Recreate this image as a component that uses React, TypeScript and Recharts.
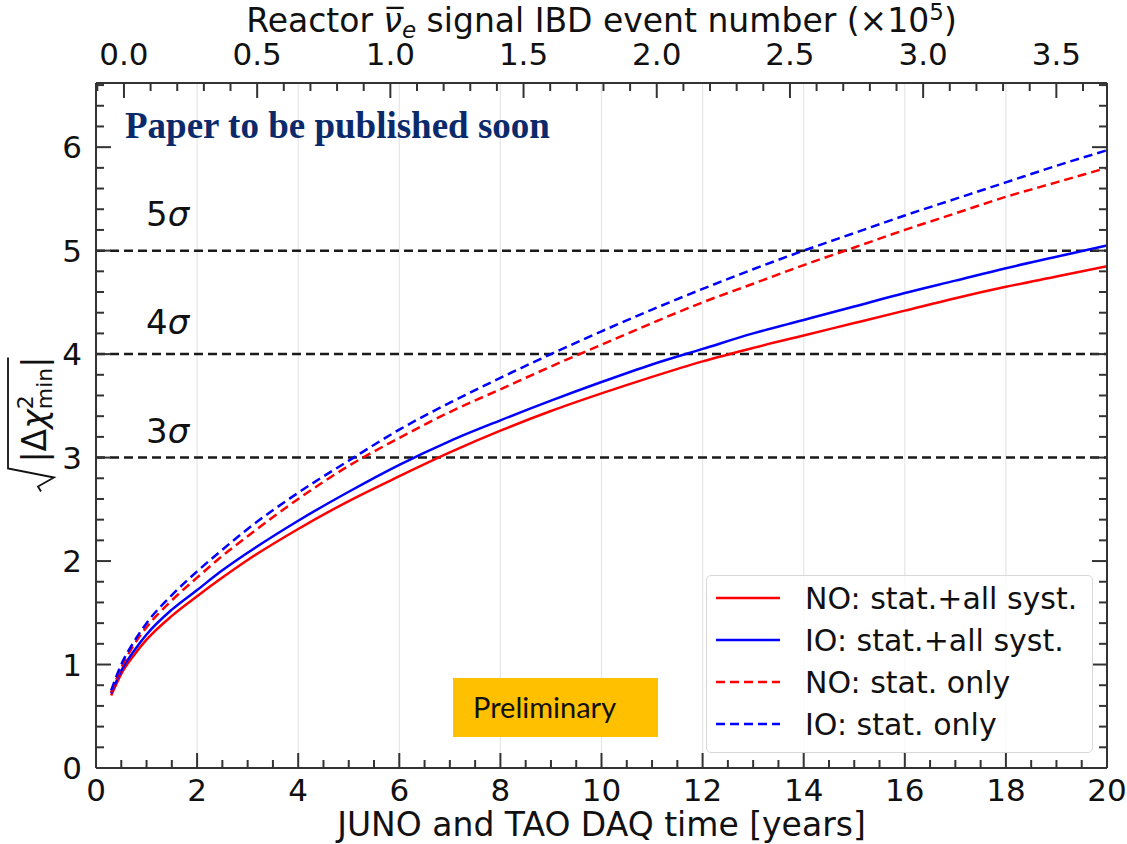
import React from 'react';
import { LineChart, Line, XAxis, YAxis, ReferenceLine, Legend } from 'recharts';

// DAQ time [years] and sqrt(|dchi2_min|) for each hypothesis
const years = [0.3, 0.5, 0.75, 1, 1.5, 2, 2.5, 3, 4, 5, 6, 7, 8, 9, 10, 11, 12, 13, 14, 15, 16, 17, 18, 19, 20];
const noSyst = [0.7, 0.91, 1.09, 1.24, 1.47, 1.66, 1.84, 2.01, 2.31, 2.58, 2.82, 3.05, 3.26, 3.45, 3.62, 3.78, 3.93, 4.06, 4.18, 4.3, 4.42, 4.54, 4.65, 4.75, 4.85];
const ioSyst = [0.72, 0.94, 1.13, 1.29, 1.53, 1.72, 1.91, 2.08, 2.39, 2.67, 2.93, 3.16, 3.36, 3.55, 3.73, 3.9, 4.05, 4.2, 4.33, 4.46, 4.59, 4.71, 4.83, 4.94, 5.05];
const noStat = [0.73, 0.97, 1.19, 1.36, 1.62, 1.84, 2.05, 2.24, 2.6, 2.92, 3.19, 3.44, 3.66, 3.88, 4.09, 4.3, 4.5, 4.68, 4.86, 5.03, 5.2, 5.36, 5.52, 5.66, 5.8];
const ioStat = [0.75, 1.0, 1.22, 1.4, 1.67, 1.9, 2.11, 2.31, 2.66, 2.97, 3.27, 3.53, 3.77, 4.0, 4.22, 4.43, 4.63, 4.82, 5.0, 5.17, 5.34, 5.5, 5.66, 5.82, 5.97];

// ticks
const xTicks = Array.from({ length: 41 }, (_, i) => i * 0.5);
const yTicks = Array.from({ length: 34 }, (_, i) => (i * 2) / 10);
// top axis: IBD events (x1e5); 0 events sits at 0.553 yr, 1e5 events every 5.27 yr
const topEvents = Array.from({ length: 38 }, (_, i) => (i - 1) / 10);
const EV_OFFSET = 0.553;
const YEARS_PER_EV = 5.27;
const gridYears = [2, 4, 6, 8, 10, 12, 14, 16, 18];
const sigmaLevels = [
  { level: 3, lift: 15 },
  { level: 4, lift: 20 },
  { level: 5, lift: 25 },
];

const series = [
  { key: 'noSyst', name: 'NO: stat.+all syst.', color: '#ff0000', dash: undefined },
  { key: 'ioSyst', name: 'IO: stat.+all syst.', color: '#0000ff', dash: undefined },
  { key: 'noStat', name: 'NO: stat. only', color: '#ff0000', dash: '9 5' },
  { key: 'ioStat', name: 'IO: stat. only', color: '#0000ff', dash: '9 5' },
];

const data = years.map((t, i) => ({
  t,
  noSyst: noSyst[i],
  ioSyst: ioSyst[i],
  noStat: noStat[i],
  ioStat: ioStat[i],
}));

const topTicks = topEvents.map((e) => EV_OFFSET + e * YEARS_PER_EV);

const FONT = 'DejaVu Sans';
const AXIS = '#333';
const TICK_FS = 31;

const isMult = (v: number, step: number) => Math.abs(v / step - Math.round(v / step)) < 1e-6;

const BottomTick = ({ x, y, payload }: any) => {
  const major = isMult(payload.value, 2);
  return (
    <g>
      <line x1={x} x2={x} y1={y} y2={y - (major ? 15 : 8)} stroke={AXIS} strokeWidth={2} />
      {major && (
        <text x={x} y={y + 33} textAnchor='middle' fontSize={TICK_FS} fontFamily={FONT} fill='#111'>
          {payload.value}
        </text>
      )}
    </g>
  );
};

const TopTick = ({ x, y, payload }: any) => {
  const ev = Math.round(((payload.value - EV_OFFSET) / YEARS_PER_EV) * 10) / 10;
  const major = isMult(ev, 0.5);
  return (
    <g>
      <line x1={x} x2={x} y1={y} y2={y + (major ? 15 : 8)} stroke={AXIS} strokeWidth={2} />
      {major && (
        <text x={x} y={y - 18} textAnchor='middle' fontSize={TICK_FS} fontFamily={FONT} fill='#111'>
          {ev.toFixed(1)}
        </text>
      )}
    </g>
  );
};

const LeftTick = ({ x, y, payload }: any) => {
  const major = isMult(payload.value, 1);
  return (
    <g>
      <line x1={x} x2={x + (major ? 15 : 8)} y1={y} y2={y} stroke={AXIS} strokeWidth={2} />
      {major && (
        <text x={x - 14} y={y + 11} textAnchor='end' fontSize={TICK_FS} fontFamily={FONT} fill='#111'>
          {payload.value}
        </text>
      )}
    </g>
  );
};

const RightTick = ({ x, y, payload }: any) => {
  const major = isMult(payload.value, 1);
  return <line x1={x} x2={x - (major ? 15 : 8)} y1={y} y2={y} stroke={AXIS} strokeWidth={2} />;
};

const TopTitle = ({ viewBox }: any) => {
  if (!viewBox) return null;
  const cx = viewBox.x + viewBox.width / 2;
  return (
    <text x={cx} y={32} textAnchor='middle' fontSize={33} fontFamily={FONT} fill='#111'>
      Reactor <tspan fontStyle='italic'>{'\u03BD\u0305'}</tspan>
      <tspan fontSize={23} fontStyle='italic' dy={6}>e</tspan>
      <tspan dy={-6}> signal IBD event number (×10</tspan>
      <tspan fontSize={23} dy={-12}>5</tspan>
      <tspan dy={12}>)</tspan>
    </text>
  );
};

const BottomTitle = ({ viewBox }: any) => {
  if (!viewBox) return null;
  const cx = viewBox.x + viewBox.width / 2;
  return (
    <text x={cx} y={836} textAnchor='middle' fontSize={33} fontFamily={FONT} fill='#111'>
      JUNO and TAO DAQ time [years]
    </text>
  );
};

const YTitle = ({ viewBox }: any) => {
  if (!viewBox) return null;
  const cx = viewBox.x + 31;
  const cy = viewBox.y + viewBox.height / 2;
  return (
    <g transform={`translate(${cx},${cy}) rotate(-90)`}>
      <path d='M -66 10 L -61 7 L -52 23 L -43 -23 L 68 -23' fill='none' stroke='#111' strokeWidth={1.8} />
      <text x={-37} y={15} fontSize={33} fontFamily={FONT} fill='#111'>
        |Δ<tspan fontStyle='italic'>χ</tspan>
        <tspan fontSize={22} dy={-13}>2</tspan>
        <tspan fontSize={22} dx={-14} dy={19}>min</tspan>
        <tspan dy={-6}>|</tspan>
      </text>
    </g>
  );
};

const SigmaLabel = ({ viewBox, level, lift }: any) => {
  if (!viewBox) return null;
  return (
    <text x={viewBox.x + 50} y={viewBox.y - lift} fontSize={34} fontFamily={FONT} fill='#111'>
      {level}
      <tspan fontStyle='italic'>σ</tspan>
    </text>
  );
};

const LegendBox = () => (
  <div
    style={{
      width: 387,
      height: 178,
      boxSizing: 'border-box',
      background: 'rgba(255,255,255,0.8)',
      border: '1.5px solid #d8d8d8',
      borderRadius: 5,
      paddingTop: 1,
      paddingLeft: 9,
      fontFamily: FONT,
      fontSize: 30,
      color: '#111',
    }}
  >
    {series.map((s) => (
      <div key={s.key} style={{ display: 'flex', alignItems: 'center', height: 42 }}>
        <svg width={64} height={10}>
          <line x1={0} x2={64} y1={5} y2={5} stroke={s.color} strokeWidth={2.5} strokeDasharray={s.dash} />
        </svg>
        <span style={{ marginLeft: 25, whiteSpace: 'nowrap' }}>{s.name}</span>
      </div>
    ))}
  </div>
);

export default function App() {
  return (
    <div style={{ position: 'absolute', left: 0, top: 0, width: 1127, height: 844, background: '#fff' }}>
      <LineChart width={1127} height={844} data={data} margin={{ top: 0, right: 0, bottom: 0, left: 0 }}>
        <XAxis
          dataKey='t'
          type='number'
          domain={[0, 20]}
          allowDataOverflow
          ticks={xTicks}
          interval={0}
          tickLine={false}
          tickSize={0}
          tickMargin={0}
          height={76}
          axisLine={{ stroke: AXIS, strokeWidth: 2 }}
          tick={<BottomTick />}
          label={<BottomTitle />}
        />
        <XAxis
          xAxisId='top'
          orientation='top'
          dataKey='t'
          type='number'
          domain={[0, 20]}
          allowDataOverflow
          ticks={topTicks}
          interval={0}
          tickLine={false}
          tickSize={0}
          tickMargin={0}
          height={83}
          axisLine={{ stroke: AXIS, strokeWidth: 2 }}
          tick={<TopTick />}
          label={<TopTitle />}
        />
        <YAxis
          type='number'
          domain={[0, 6.62]}
          allowDataOverflow
          ticks={yTicks}
          interval={0}
          tickLine={false}
          tickSize={0}
          tickMargin={0}
          width={96}
          axisLine={{ stroke: AXIS, strokeWidth: 2 }}
          tick={<LeftTick />}
          label={<YTitle />}
        />
        <YAxis
          yAxisId='right'
          orientation='right'
          type='number'
          domain={[0, 6.62]}
          allowDataOverflow
          ticks={yTicks}
          interval={0}
          tickLine={false}
          tickSize={0}
          tickMargin={0}
          width={20}
          axisLine={{ stroke: AXIS, strokeWidth: 2 }}
          tick={<RightTick />}
        />
        {gridYears.map((g) => (
          <ReferenceLine key={`g${g}`} x={g} stroke='#e6e6e6' strokeWidth={1.2} />
        ))}
        {sigmaLevels.map((s) => (
          <ReferenceLine
            key={`s${s.level}`}
            y={s.level}
            stroke='#1a1a1a'
            strokeWidth={2.5}
            strokeDasharray='9 5'
            label={<SigmaLabel level={s.level} lift={s.lift} />}
          />
        ))}
        {series.map((s) => (
          <Line
            key={s.key}
            type='monotone'
            dataKey={s.key}
            name={s.name}
            stroke={s.color}
            strokeWidth={2.5}
            strokeDasharray={s.dash}
            dot={false}
            activeDot={false}
            isAnimationActive={false}
          />
        ))}
        <Legend
          layout='vertical'
          align='center'
          verticalAlign='middle'
          content={<LegendBox />}
          wrapperStyle={{ left: 706, top: 575, width: 387, height: 178, right: 'auto', bottom: 'auto' }}
        />
      </LineChart>
      <svg width={1127} height={844} style={{ position: 'absolute', left: 0, top: 0, pointerEvents: 'none' }}>
        <text x={125} y={138} fontSize={37} fontWeight='bold' fontFamily='Liberation Serif' fill='#0b2a6b'>
          Paper to be published soon
        </text>
        <rect x={453} y={678} width={205} height={59} fill='#ffc000' />
        <text x={473} y={718} fontSize={29} fontFamily='Lato' fill='#111'>
          Preliminary
        </text>
      </svg>
    </div>
  );
}
